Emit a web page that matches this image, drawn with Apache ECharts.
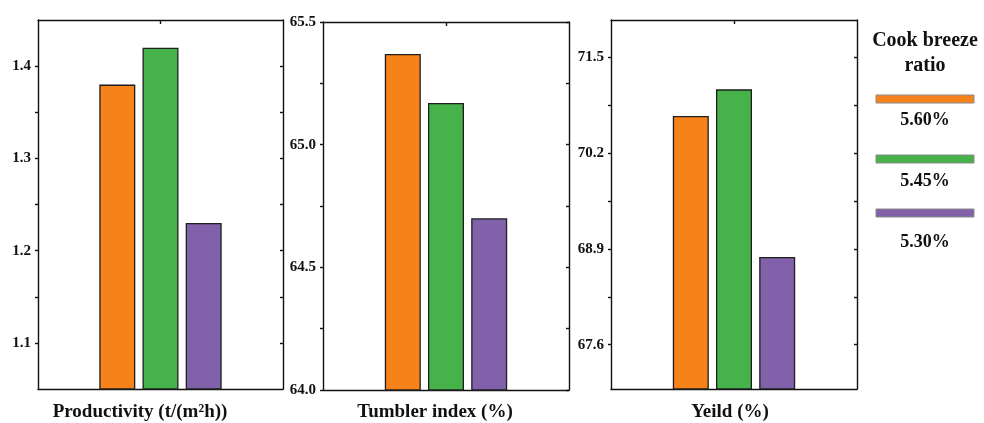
<!DOCTYPE html>
<html>
<head>
<meta charset="utf-8">
<script src="https://cdn.jsdelivr.net/npm/echarts@6/dist/echarts.min.js"></script>
<style>
  html, body { margin: 0; padding: 0; background: #fff; }
  #chart { width: 984px; height: 423px; }
</style>
</head>
<body>
<div id="chart"></div>
<script>
// Sinter indices for three coke breeze ratios
const panelTitles = ['Productivity (t/(m²h))', 'Tumbler index (%)', 'Yeild (%)'];
const ratios = ['5.60%', '5.45%', '5.30%'];
const ratioColors = ['#F8821A', '#47B24A', '#8061AA'];

const productivity = [1.38, 1.42, 1.23];
const tumblerIndex = [65.37, 65.17, 64.70];
const yieldPct = [70.70, 71.06, 68.79];

const productivityRange = [1.05, 1.45];
const productivityLabels = [1.1, 1.2, 1.3, 1.4];
const productivityTicks = [1.1, 1.15, 1.2, 1.25, 1.3, 1.35, 1.4];

const tumblerRange = [64.0, 65.5];
const tumblerLabels = [64.0, 64.5, 65.0, 65.5];
const tumblerTicks = [64.0, 64.25, 64.5, 64.75, 65.0, 65.25, 65.5];

const yieldRange = [67.0, 72.0];
const yieldLabels = [67.6, 68.9, 70.2, 71.5];
const yieldTicks = [67.6, 68.25, 68.9, 69.55, 70.2, 70.85, 71.5];

const panels = [
  { values: productivity, range: productivityRange, labels: productivityLabels, ticks: productivityTicks, decimals: 1 },
  { values: tumblerIndex, range: tumblerRange, labels: tumblerLabels, ticks: tumblerTicks, decimals: 1 },
  { values: yieldPct, range: yieldRange, labels: yieldLabels, ticks: yieldTicks, decimals: 1 }
];

// layout of the three framed plots
const gridBoxes = [
  { left: 38, top: 20, width: 245, height: 369 },
  { left: 323, top: 22, width: 246, height: 368 },
  { left: 611, top: 20, width: 246, height: 369 }
];
const titleCenters = [140, 435, 730];

const serif = '"Liberation Serif", "Times New Roman", serif';
const ink = '#111';
const lineStyle = { color: ink, width: 1.4 };

const grid = gridBoxes.map(b => Object.assign({ containLabel: false }, b));
const xAxis = [];
const yAxis = [];
const series = [];

panels.forEach((p, gi) => {
  ['bottom', 'top'].forEach(pos => {
    xAxis.push({
      type: 'category', gridIndex: gi, position: pos, data: [''],
      axisLine: { show: true, onZero: false, lineStyle },
      axisTick: { show: true, inside: true, alignWithLabel: true, length: 4, lineStyle },
      axisLabel: { show: false }, splitLine: { show: false }
    });
  });
  yAxis.push({
    type: 'value', gridIndex: gi, position: 'left',
    min: p.range[0], max: p.range[1],
    axisLine: { show: true, onZero: false, lineStyle },
    axisTick: { show: true, inside: false, length: 3, customValues: p.ticks, lineStyle },
    axisLabel: {
      customValues: p.labels, margin: 7,
      formatter: v => Number(v).toFixed(p.decimals),
      fontFamily: serif, fontWeight: 'bold', fontSize: 15, color: ink
    },
    splitLine: { show: false }
  });
  yAxis.push({
    type: 'value', gridIndex: gi, position: 'right',
    min: p.range[0], max: p.range[1],
    axisLine: { show: true, onZero: false, lineStyle },
    axisTick: { show: true, inside: true, length: 3, customValues: p.ticks, lineStyle },
    axisLabel: { show: false },
    splitLine: { show: false }
  });
  ratios.forEach((r, si) => {
    series.push({
      type: 'bar', name: r,
      xAxisIndex: gi * 2, yAxisIndex: gi * 2,
      barWidth: 36, barGap: '20%',
      data: [p.values[si]],
      itemStyle: { color: ratioColors[si], borderColor: '#1e1e1e', borderWidth: 1.3 },
      silent: true
    });
  });
});

// axis titles beneath each plot and the ratio key on the right
const graphic = [];
panelTitles.forEach((t, i) => {
  graphic.push({
    type: 'text', x: titleCenters[i], y: 412,
    style: { text: t, fontFamily: serif, fontWeight: 'bold', fontSize: 19, fill: ink, align: 'center', verticalAlign: 'middle' }
  });
});
graphic.push({
  type: 'text', x: 925, y: 53,
  style: { text: 'Cook breeze\nratio', fontFamily: serif, fontWeight: 'bold', fontSize: 20, lineHeight: 25, fill: ink, align: 'center', verticalAlign: 'middle' }
});
const keyBarY = [95, 155, 209];
const keyTextY = [120, 181, 242];
ratios.forEach((r, i) => {
  graphic.push({
    type: 'rect', shape: { x: 876, y: keyBarY[i], width: 98, height: 8 },
    style: { fill: ratioColors[i], stroke: '#8a8a8a', lineWidth: 1 }
  });
  graphic.push({
    type: 'text', x: 925, y: keyTextY[i],
    style: { text: r, fontFamily: serif, fontWeight: 'bold', fontSize: 18, fill: ink, align: 'center', verticalAlign: 'middle' }
  });
});

const chart = echarts.init(document.getElementById('chart'), null, { renderer: 'canvas' });
chart.setOption({
  animation: false,
  backgroundColor: '#fff',
  grid, xAxis, yAxis, series, graphic
});
</script>
</body>
</html>
